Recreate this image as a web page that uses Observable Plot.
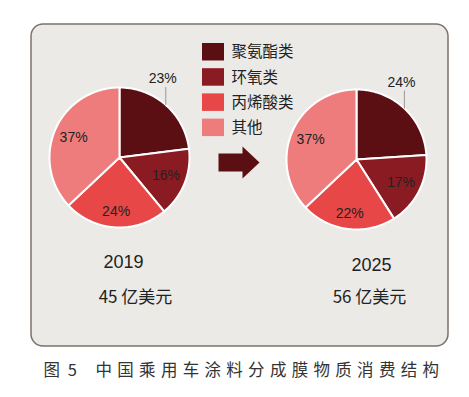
<!DOCTYPE html>
<html><head><meta charset="utf-8">
<script src="https://cdn.jsdelivr.net/npm/d3@7"></script>
<script src="https://cdn.jsdelivr.net/npm/@observablehq/plot@0.6"></script>
<style>body{margin:0;background:#fff;overflow:hidden}</style>
</head><body><div id="chart"></div>
<script>
// ---- data ----
const categories = ["聚氨酯类", "环氧类", "丙烯酸类", "其他"];
const colors = ["#5c0f13", "#8b1b22", "#e84747", "#ee7c7d"];
const years = ["2019", "2025"];
const totals = ["45 亿美元", "56 亿美元"];
const share2019 = [23, 16, 24, 37];
const share2025 = [24, 17, 22, 37];
const captionNo = "图 5";
const captionText = "中国乘用车涂料分成膜物质消费结构";

// ---- layout ----
const W = 469, H = 397, R = 70;
const pies = [{cx: 119, cy: 157}, {cx: 356, cy: 159}];
const seriesList = [share2019, share2025];

const polys = [], labels = [], leaders = [], yearRows = [];
seriesList.forEach((vals, p) => {
  const {cx, cy} = pies[p];
  const total = d3.sum(vals);
  let acc = 0;
  vals.forEach((v, i) => {
    const a0 = acc / total * 2 * Math.PI; acc += v;
    const a1 = acc / total * 2 * Math.PI;
    const key = p + "-" + i, cat = categories[i];
    polys.push({key, cat, x: cx, y: cy});
    const n = Math.max(2, Math.ceil((a1 - a0) / (Math.PI / 180)));
    for (let k = 0; k <= n; k++) {
      const a = a0 + (a1 - a0) * k / n;
      polys.push({key, cat, x: cx + R * Math.sin(a), y: cy - R * Math.cos(a)});
    }
    polys.push({key, cat, x: cx, y: cy});
    const am = (a0 + a1) / 2;
    if (i === 0) {
      const ex = cx + R * Math.sin(am), ey = cy - R * Math.cos(am);
      leaders.push({x1: ex, y1: ey, x2: ex, y2: ey - 18});
      labels.push({x: ex - 3, y: ey - 26, text: v + "%"});
    } else {
      const lr = i === 2 ? 54 : 50;
      labels.push({x: cx + lr * Math.sin(am), y: cy - lr * Math.cos(am), text: v + "%"});
    }
  });
});
const yearPos = [{x: 123, y: 262, tx: 135, ty: 297}, {x: 371, y: 265, tx: 369, ty: 297}];
years.forEach((y, i) => yearRows.push({year: y, total: totals[i], ...yearPos[i]}));

// arrow block shape (decoration)
const ax0 = 218, axh = 242, ax1 = 259, ay = 162, sh = 9, hh = 16;
const arrow = [[ax0, ay - sh], [axh, ay - sh], [axh, ay - hh], [ax1, ay], [axh, ay + hh], [axh, ay + sh], [ax0, ay + sh], [ax0, ay - sh]]
  .map(([x, y]) => ({x, y}));

const chart = Plot.plot({
  width: W, height: H, margin: 0,
  x: {domain: [0, W], range: [0, W], axis: null},
  y: {domain: [0, H], range: [0, H], axis: null},
  color: {domain: categories, range: colors},
  style: {fontFamily: "'Noto Sans CJK SC', 'Noto Sans', sans-serif", background: "#fff", overflow: "visible"},
  marks: [
    Plot.rect([0], {x1: 31, x2: 448, y1: 24, y2: 346, fill: "#ebeae7", stroke: "#7d716b", strokeWidth: 1.5, rx: 12}),
    Plot.line(polys, {x: "x", y: "y", z: "key", fill: "cat", stroke: "#fff", strokeWidth: 2, strokeLinejoin: "round"}),
    Plot.link(leaders, {x1: "x1", y1: "y1", x2: "x2", y2: "y2", stroke: "#999", strokeWidth: 1}),
    Plot.text(labels, {x: "x", y: "y", text: "text", fontSize: 14, fill: "#222", fontFamily: "'Liberation Sans', Arial, sans-serif"}),
    Plot.rect(categories, {x1: 202, x2: 224, y1: (d, i) => 43 + 25.2 * i, y2: (d, i) => 60.5 + 25.2 * i, fill: d => d}),
    Plot.text(categories, {x: 231, y: (d, i) => 52 + 25.2 * i, text: d => d, textAnchor: "start", fontSize: 15.5, fill: "#222"}),
    Plot.line(arrow, {x: "x", y: "y", fill: "#5c0f13", stroke: "none"}),
    Plot.text(yearRows, {x: "x", y: "y", text: "year", fontSize: 18, fill: "#222", fontFamily: "'Liberation Sans', Arial, sans-serif"}),
    Plot.text(yearRows, {x: "tx", y: "ty", text: "total", fontSize: 17, fill: "#222"}),
    Plot.text([captionNo], {x: 43, y: 370, text: d => d, textAnchor: "start", fontSize: 16.5, fill: "#333"}),
    Plot.text([captionText], {x: 95, y: 370, text: d => d, textAnchor: "start", fontSize: 16.5, fill: "#333"})
  ]
});
chart.querySelectorAll("text").forEach(t => {
  if (t.textContent === captionText) t.setAttribute("letter-spacing", "5.3");
  if (t.textContent === captionNo) t.setAttribute("letter-spacing", "2");
});
document.getElementById("chart").append(chart);
</script>
</body></html>
